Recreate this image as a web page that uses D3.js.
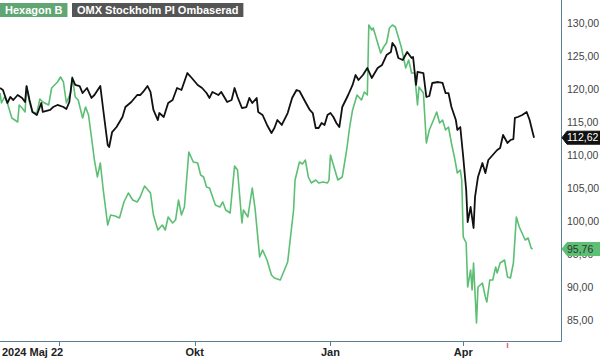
<!DOCTYPE html>
<html>
<head>
<meta charset="utf-8">
<script src="https://cdn.jsdelivr.net/npm/d3@7"></script>
<style>
  body { margin: 0; background: #fff; }
  svg { display: block; font-family: "Liberation Sans", Arial, sans-serif; }
  .tick-label { font-size: 10.5px; fill: #444; }
  .date-label { font-size: 11px; font-weight: bold; fill: #222; }
</style>
</head>
<body>
<div id="wrapper"></div>
<script>
// data
const omxDates = ["2024-05-22","2024-05-24","2024-05-27","2024-05-29","2024-05-31","2024-06-03","2024-06-06","2024-06-08","2024-06-09","2024-06-11","2024-06-13","2024-06-16","2024-06-19","2024-06-20","2024-06-25","2024-06-27","2024-06-30","2024-07-04","2024-07-06","2024-07-08","2024-07-10","2024-07-12","2024-07-15","2024-07-17","2024-07-20","2024-07-23","2024-07-25","2024-07-29","2024-07-31","2024-08-03","2024-08-04","2024-08-06","2024-08-09","2024-08-13","2024-08-15","2024-08-19","2024-08-23","2024-08-25","2024-08-27","2024-08-30","2024-09-01","2024-09-03","2024-09-06","2024-09-07","2024-09-10","2024-09-13","2024-09-16","2024-09-19","2024-09-22","2024-09-26","2024-09-29","2024-10-03","2024-10-06","2024-10-09","2024-10-11","2024-10-13","2024-10-17","2024-10-19","2024-10-23","2024-10-26","2024-10-28","2024-10-30","2024-11-02","2024-11-05","2024-11-07","2024-11-09","2024-11-12","2024-11-13","2024-11-16","2024-11-19","2024-11-22","2024-11-24","2024-11-26","2024-11-29","2024-12-03","2024-12-06","2024-12-09","2024-12-11","2024-12-15","2024-12-18","2024-12-20","2024-12-22","2024-12-24","2024-12-26","2024-12-28","2024-12-30","2025-01-01","2025-01-03","2025-01-05","2025-01-07","2025-01-09","2025-01-13","2025-01-16","2025-01-18","2025-01-20","2025-01-23","2025-01-26","2025-01-29","2025-02-02","2025-02-05","2025-02-08","2025-02-11","2025-02-12","2025-02-14","2025-02-16","2025-02-19","2025-02-22","2025-02-25","2025-02-26","2025-02-28","2025-03-01","2025-03-05","2025-03-07","2025-03-09","2025-03-11","2025-03-15","2025-03-18","2025-03-20","2025-03-22","2025-03-24","2025-03-27","2025-03-28","2025-03-30","2025-04-01","2025-04-03","2025-04-04","2025-04-06","2025-04-08","2025-04-09","2025-04-11","2025-04-14","2025-04-16","2025-04-18","2025-04-21","2025-04-24","2025-04-26","2025-04-28","2025-05-01","2025-05-03","2025-05-05","2025-05-06","2025-05-08","2025-05-11","2025-05-14","2025-05-16","2025-05-18","2025-05-19"];
const omxValues = [120.15,119.85,117.88,118.79,118.33,119.09,118.64,118.03,120.45,118.33,116.52,116.06,117.88,116.52,116.82,117.27,117.58,117.27,116.97,118.03,121.67,120.61,120.45,119.39,120.15,118.64,119.09,120.45,116.82,111.52,111.21,113.48,114.24,115.76,117.27,118.03,119.09,119.09,119.55,120.45,119.55,116.82,115.3,116.36,115.76,117.88,118.33,120.15,119.85,122.42,121.67,120.61,120.15,119.39,118.64,119.55,119.09,119.55,118.03,118.33,120.15,118.79,117.12,117.27,118.64,117.88,118.64,116.52,116.06,114.55,113.33,114.09,115.3,114.55,116.36,118.64,119.85,119.7,118.03,116.82,116.36,114.09,114.09,114.85,114.55,116.06,116.36,115.76,114.85,114.24,117.27,119.09,120.61,122.12,121.36,122.12,123.18,121.67,123.18,123.64,125.15,125.61,126.97,126.36,124.7,124.39,125.61,124.7,124.85,120.61,122.58,122.42,118.79,118.94,120.91,121.06,120.91,119.39,119.39,117.27,115.3,113.79,114.24,109.7,104.7,99.85,102.12,98.94,103.64,106.67,108.79,107.27,109.24,110.0,110.76,111.06,113.03,111.82,112.27,112.42,115.61,115.76,116.06,116.52,115.3,113.48,112.62];

const hexDates = ["2024-05-22","2024-05-23","2024-05-25","2024-05-27","2024-05-30","2024-06-01","2024-06-03","2024-06-04","2024-06-06","2024-06-08","2024-06-09","2024-06-11","2024-06-13","2024-06-16","2024-06-18","2024-06-20","2024-06-24","2024-06-26","2024-06-30","2024-07-02","2024-07-04","2024-07-06","2024-07-09","2024-07-10","2024-07-12","2024-07-14","2024-07-17","2024-07-19","2024-07-21","2024-07-23","2024-07-25","2024-07-27","2024-07-29","2024-07-31","2024-08-03","2024-08-05","2024-08-08","2024-08-11","2024-08-14","2024-08-17","2024-08-20","2024-08-23","2024-08-25","2024-08-28","2024-09-01","2024-09-03","2024-09-06","2024-09-09","2024-09-11","2024-09-13","2024-09-16","2024-09-18","2024-09-20","2024-09-22","2024-09-24","2024-09-27","2024-09-30","2024-10-03","2024-10-05","2024-10-07","2024-10-09","2024-10-11","2024-10-15","2024-10-18","2024-10-20","2024-10-22","2024-10-25","2024-10-28","2024-10-30","2024-11-02","2024-11-03","2024-11-06","2024-11-09","2024-11-11","2024-11-14","2024-11-16","2024-11-19","2024-11-22","2024-11-24","2024-11-28","2024-12-03","2024-12-07","2024-12-08","2024-12-11","2024-12-13","2024-12-15","2024-12-17","2024-12-19","2024-12-22","2024-12-24","2024-12-27","2024-12-30","2024-12-31","2025-01-01","2025-01-04","2025-01-06","2025-01-09","2025-01-12","2025-01-14","2025-01-16","2025-01-19","2025-01-22","2025-01-24","2025-01-26","2025-01-27","2025-01-29","2025-01-30","2025-02-02","2025-02-04","2025-02-06","2025-02-08","2025-02-10","2025-02-12","2025-02-14","2025-02-16","2025-02-18","2025-02-21","2025-02-23","2025-02-25","2025-02-27","2025-03-01","2025-03-02","2025-03-05","2025-03-07","2025-03-09","2025-03-11","2025-03-14","2025-03-16","2025-03-18","2025-03-20","2025-03-22","2025-03-24","2025-03-26","2025-03-28","2025-03-30","2025-03-31","2025-04-01","2025-04-03","2025-04-04","2025-04-06","2025-04-07","2025-04-08","2025-04-10","2025-04-11","2025-04-14","2025-04-16","2025-04-17","2025-04-19","2025-04-21","2025-04-23","2025-04-24","2025-04-26","2025-04-29","2025-05-01","2025-05-03","2025-05-05","2025-05-07","2025-05-09","2025-05-13","2025-05-15","2025-05-17","2025-05-18"];
const hexValues = [119.39,117.88,118.79,117.88,115.61,115.3,115.0,117.58,117.12,116.52,120.45,118.03,116.52,116.36,118.48,118.03,117.58,120.15,121.06,121.82,121.06,117.88,119.55,121.82,118.79,118.33,115.61,117.27,116.06,112.73,109.24,106.67,108.79,104.7,99.39,100.91,100.76,100.45,102.88,104.24,103.18,102.88,103.64,105.3,104.24,100.91,98.64,99.39,98.64,100.61,99.7,100.15,103.18,100.91,102.12,110.45,108.94,108.79,106.97,106.67,105.15,105.0,102.42,102.12,102.88,101.67,101.21,108.33,107.73,99.7,101.67,100.61,105.0,101.67,94.55,95.61,94.09,91.82,91.36,91.06,93.79,101.67,106.21,108.94,108.64,109.24,106.67,105.76,106.21,105.76,105.91,105.76,106.21,110.0,107.73,106.21,106.67,110.76,114.24,116.82,119.09,118.33,119.55,119.09,129.7,128.94,129.24,126.97,125.45,126.36,126.97,129.24,129.7,129.39,127.88,126.36,123.18,124.39,122.42,122.42,117.58,120.3,119.39,111.82,113.79,114.85,116.52,114.85,115.3,113.79,114.24,111.82,109.7,107.27,107.73,106.21,97.58,96.67,90.0,92.58,89.55,93.64,84.55,90.0,90.61,88.48,87.73,91.06,91.06,93.03,92.12,93.64,94.09,91.52,91.36,93.64,100.61,99.09,97.12,97.42,95.91,95.76];

const yTicks = [85, 90, 95, 100, 105, 110, 115, 120, 125, 130];
const monthTicks = ["2024-07-01", "2024-10-01", "2025-01-01", "2025-04-01"];
const monthLabels = ["", "Okt", "Jan", "Apr"];
const startLabel = "2024 Maj 22";
const eventDates = ["2025-05-01"];
const seriesNames = ["Hexagon B", "OMX Stockholm PI Ombaserad"];

const parseDate = d3.timeParse("%Y-%m-%d");
const fmt = (v) => d3.format(".2f")(v).replace(".", ",");

const dimensions = { width: 600, height: 358, plotRight: 561, plotBottom: 341 };
const frameColor = "#5a7f8f";
const greenLine = "#5cbf74";
const greenBox = "#5fa672";

const svg = d3.select("#wrapper").append("svg")
  .attr("width", dimensions.width)
  .attr("height", dimensions.height);

const xScale = d3.scaleTime()
  .domain([parseDate("2024-05-22"), parseDate("2025-05-21")])
  .range([0, 537]);
const yScale = d3.scaleLinear().domain([85, 130]).range([320, 23]);

const lineGen = d3.line()
  .x((d) => xScale(d.date))
  .y((d) => yScale(d.value));

const toSeries = (dates, values) => dates.map((d, i) => ({ date: parseDate(d), value: values[i] }));
const hexData = toSeries(hexDates, hexValues);
const omxData = toSeries(omxDates, omxValues);

// lines
svg.append("path")
  .datum(hexData)
  .attr("fill", "none")
  .attr("stroke", greenLine)
  .attr("stroke-width", 1.6)
  .attr("stroke-linejoin", "round")
  .attr("d", lineGen);

svg.append("path")
  .datum(omxData)
  .attr("fill", "none")
  .attr("stroke", "#111")
  .attr("stroke-width", 1.8)
  .attr("stroke-linejoin", "round")
  .attr("d", lineGen);

// frame
svg.append("line")
  .attr("x1", 0).attr("x2", dimensions.plotRight + 0.5)
  .attr("y1", dimensions.plotBottom + 0.5).attr("y2", dimensions.plotBottom + 0.5)
  .attr("stroke", frameColor);
svg.append("line")
  .attr("x1", dimensions.plotRight + 0.5).attr("x2", dimensions.plotRight + 0.5)
  .attr("y1", 0).attr("y2", dimensions.plotBottom + 0.5)
  .attr("stroke", frameColor);

// y labels
svg.selectAll(".tick-label")
  .data(yTicks)
  .enter()
  .append("text")
  .attr("class", "tick-label")
  .attr("x", 567)
  .attr("y", (d) => yScale(d))
  .attr("dy", "0.35em")
  .text((d) => fmt(d));

// x ticks
const monthData = monthTicks.map((d, i) => ({ date: parseDate(d), label: monthLabels[i] }));
svg.selectAll(".month-tick")
  .data(monthData)
  .enter()
  .append("line")
  .attr("class", "month-tick")
  .attr("x1", (d) => Math.round(xScale(d.date)) + 0.5)
  .attr("x2", (d) => Math.round(xScale(d.date)) + 0.5)
  .attr("y1", dimensions.plotBottom)
  .attr("y2", dimensions.plotBottom + 5)
  .attr("stroke", frameColor);

svg.selectAll(".date-label")
  .data(monthData.filter((d) => d.label))
  .enter()
  .append("text")
  .attr("class", "date-label")
  .attr("x", (d) => xScale(d.date))
  .attr("y", 356)
  .attr("text-anchor", "middle")
  .text((d) => d.label);

svg.append("text")
  .attr("class", "date-label")
  .attr("x", 2)
  .attr("y", 356)
  .text(startLabel);

svg.selectAll(".event-tick")
  .data(eventDates.map(parseDate))
  .enter()
  .append("line")
  .attr("x1", (d) => Math.round(xScale(d)) + 0.5)
  .attr("x2", (d) => Math.round(xScale(d)) + 0.5)
  .attr("y1", dimensions.plotBottom + 2)
  .attr("y2", dimensions.plotBottom + 7)
  .attr("stroke", "#e06d7c")
  .attr("stroke-width", 1.5);

// last value tags
const tags = [
  { value: omxValues[omxValues.length - 1], fill: "#111", text: "#fff" },
  { value: hexValues[hexValues.length - 1], fill: greenLine, text: "#333" },
];
tags.forEach((t) => {
  const cy = yScale(t.value);
  const h = 6.5;
  svg.append("path")
    .attr("d", `M562,${cy} L567,${cy - h} L600,${cy - h} L600,${cy + h} L567,${cy + h} Z`)
    .attr("fill", t.fill)
    .attr("stroke", t.fill)
    .attr("stroke-linejoin", "round")
    .attr("stroke-width", 1);
  svg.append("text")
    .attr("x", 567)
    .attr("y", cy)
    .attr("dy", "0.36em")
    .style("font-size", "10.5px")
    .attr("fill", t.text)
    .text(fmt(t.value));
});

// legend
const legendItems = [
  { name: seriesNames[0], x: 0, fill: greenBox },
  { name: seriesNames[1], x: 72, fill: "#555" },
];
legendItems.forEach((item) => {
  const g = svg.append("g").attr("transform", `translate(${item.x}, 3)`);
  const label = g.append("text")
    .attr("x", 5)
    .attr("y", 11)
    .style("font-size", "11px")
    .style("font-weight", "bold")
    .attr("fill", "#fff")
    .text(item.name);
  const w = label.node().getComputedTextLength() + 10;
  g.insert("rect", "text")
    .attr("width", w)
    .attr("height", 14)
    .attr("fill", item.fill);
});
</script>
</body>
</html>
